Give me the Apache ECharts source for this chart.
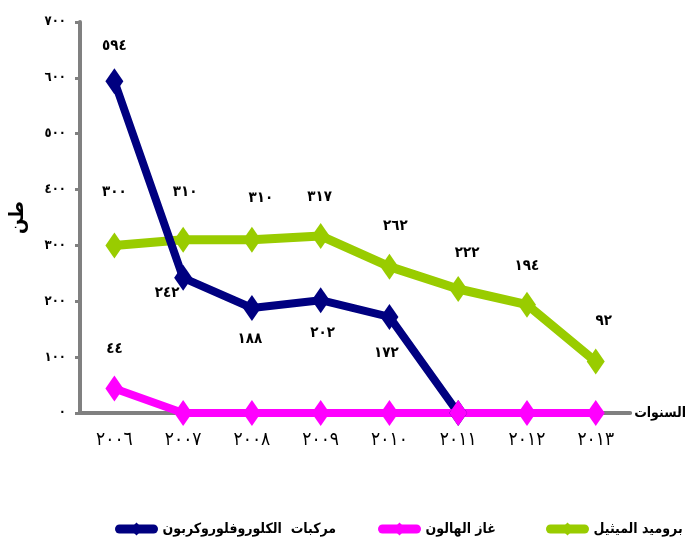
<!DOCTYPE html>
<html>
<head>
<meta charset="utf-8">
<script src="https://cdn.jsdelivr.net/npm/echarts@6/dist/echarts.min.js"></script>
<style>
html, body { margin: 0; padding: 0; background: #fff; }
#main { width: 689px; height: 548px; }
</style>
</head>
<body>
<div id="main"></div>
<script>

var years = ['2006', '2007', '2008', '2009', '2010', '2011', '2012', '2013'];

// values (tons)
var cfcValues = [594, 242, 188, 202, 172, 0, null, null];
var halonValues = [44, 0, 0, 0, 0, 0, 0, 0];
var methylValues = [300, 310, 310, 317, 262, 222, 194, 92];

var cfcName = 'مركبات  الكلوروفلوروكربون';
var halonName = 'غاز الهالون';
var methylName = 'بروميد الميثيل';

// label offsets from each point (null = no label)
var cfcLabelPos = [[0, -35], [-16, 15], [-2, 31], [2, 33], [-3, 36], null, null, null];
var halonLabelPos = [[0, -39], null, null, null, null, null, null, null];
var methylLabelPos = [[0, -53], [2, -48], [9, -42], [-1, -39], [6, -41], [9, -36], [0, -39], [8, -41]];

var FONT = "'DejaVu Sans Condensed', 'DejaVu Sans', sans-serif";

function ToArabic(s) {
    return String(s).replace(/\d/g, function (d) { return '٠١٢٣٤٥٦٧٨٩'[d]; });
}

function BuildData(values, labelPos) {
    var out = [];
    for (var i = 0; i < values.length; i++) {
        var item = { value: values[i] };
        if (labelPos[i]) {
            item.label = { show: true, position: 'inside', offset: labelPos[i] };
        }
        out.push(item);
    }
    return out;
}

function MakeSeries(name, color, width, values, labelPos) {
    return {
        name: name,
        type: 'line',
        symbol: 'diamond',
        symbolSize: [18, 26],
        connectNulls: false,
        lineStyle: { color: color, width: width },
        itemStyle: { color: color },
        label: {
            show: false,
            color: '#000',
            fontFamily: FONT,
            fontWeight: 'bold',
            fontSize: 15,
            formatter: function (p) { return ToArabic(p.value); }
        },
        emphasis: { disabled: true },
        data: BuildData(values, labelPos)
    };
}

var chart = echarts.init(document.getElementById('main'));

var legendText = { fontFamily: FONT, fontWeight: 'bold', fontSize: 14, color: '#000', padding: [0, 0, 0, 4] };
var legendLine = { width: 9, cap: 'round' };

var option = {
    animation: false,
    grid: { left: 74, right: 52, top: 22, bottom: 135 },
    legend: [
        { data: [cfcName], left: 110, top: 517, itemWidth: 34, itemHeight: 16, lineStyle: legendLine, textStyle: legendText },
        { data: [halonName], left: 373, top: 517, itemWidth: 34, itemHeight: 16, lineStyle: legendLine, textStyle: legendText },
        { data: [methylName], left: 541, top: 517, itemWidth: 34, itemHeight: 16, lineStyle: legendLine, textStyle: legendText }
    ],
    xAxis: {
        type: 'category',
        data: years,
        boundaryGap: true,
        name: 'السنوات',
        nameLocation: 'end',
        nameGap: 4,
        nameTextStyle: { fontFamily: FONT, fontWeight: 'bold', fontSize: 14, color: '#000' },
        axisLine: { lineStyle: { color: '#808080', width: 4 } },
        axisTick: { length: 5, lineStyle: { color: '#808080', width: 3 } },
        axisLabel: {
            margin: 18,
            fontFamily: FONT,
            fontSize: 19,
            color: '#000',
            formatter: function (v) { return ToArabic(v); }
        }
    },
    yAxis: {
        type: 'value',
        min: 0,
        max: 700,
        interval: 100,
        name: 'طن',
        nameLocation: 'middle',
        nameRotate: 90,
        nameGap: 52,
        nameTextStyle: { fontFamily: FONT, fontWeight: 'bold', fontSize: 20, color: '#000' },
        splitLine: { show: false },
        axisLine: { show: true, lineStyle: { color: '#808080', width: 4 } },
        axisTick: { show: true, length: 5, lineStyle: { color: '#808080', width: 3 } },
        axisLabel: {
            margin: 14,
            fontFamily: FONT,
            fontWeight: 'bold',
            fontSize: 13,
            color: '#000',
            formatter: function (v) { return ToArabic(v); }
        }
    },
    series: [
        MakeSeries(methylName, '#99cc00', 9, methylValues, methylLabelPos),
        MakeSeries(cfcName, '#000080', 8, cfcValues, cfcLabelPos),
        MakeSeries(halonName, '#ff00ff', 8, halonValues, halonLabelPos)
    ]
};

chart.setOption(option);

</script>
</body>
</html>
